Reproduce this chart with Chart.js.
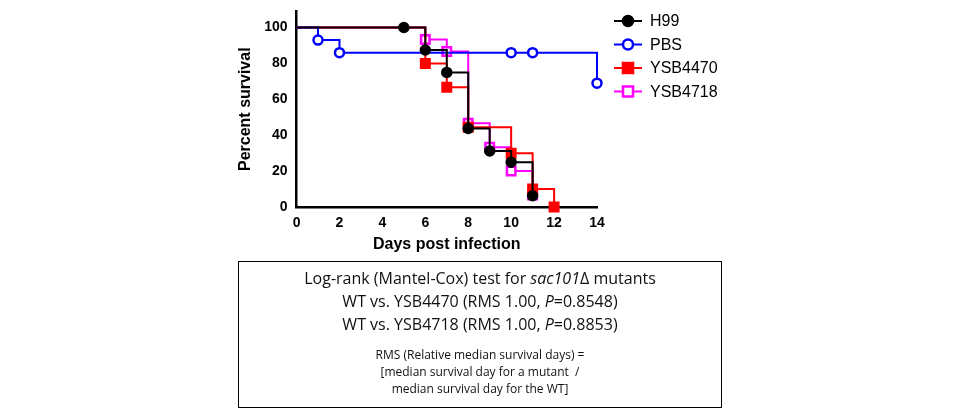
<!DOCTYPE html>
<html><head><meta charset="utf-8">
<script src="https://cdn.jsdelivr.net/npm/chart.js@4/dist/chart.umd.min.js"></script>
<style>
body{margin:0;background:#fff;width:960px;height:415px;position:relative;font-family:"Liberation Sans",Arial,sans-serif}
#wrap{position:absolute;left:0;top:0;width:960px;height:262px}
#box{position:absolute;left:238px;top:261px;width:482px;height:145px;border:1px solid #000;text-align:center;color:#111;font-family:"Open Sans","Liberation Sans",sans-serif}
#box .big{font-size:16px;line-height:23px}
#box .small{font-size:12px;line-height:17px}
</style></head><body>
<div id="wrap"><canvas id="myChart"></canvas></div>
<div id="box">
<div class="big" style="margin-top:5px">Log-rank (Mantel-Cox) test for <i>sac101</i>Δ mutants</div>
<div class="big">WT vs. YSB4470 (RMS 1.00, <i>P</i>=0.8548)</div>
<div class="big">WT vs. YSB4718 (RMS 1.00, <i>P</i>=0.8853)</div>
<div class="small" style="margin-top:10px">RMS (Relative median survival days) =</div>
<div class="small">[median survival day for a mutant &nbsp;/</div>
<div class="small">median survival day for the WT]</div>
</div>
<script>
const seriesNames = ["H99", "PBS", "YSB4470", "YSB4718"];
const h99Days = [0, 5, 6, 7, 8, 9, 10, 11];
const h99Surv = [100, 100, 87.5, 75, 43.75, 31.25, 25, 6.25];
const pbsDays = [0, 1, 2, 10, 11, 14];
const pbsSurv = [100, 93, 86, 86, 86, 69];
const ysb4470Days = [0, 6, 7, 8, 10, 11, 12];
const ysb4470Surv = [100, 80, 66.7, 44.4, 30, 10, 0];
const ysb4718Days = [0, 6, 7, 8, 9, 10, 11];
const ysb4718Surv = [100, 93.3, 86.7, 46.7, 33.3, 20, 6.7];
const xTicks = [0, 2, 4, 6, 8, 10, 12, 14];
const yTicks = [0, 20, 40, 60, 80, 100];

function pts(d, s){ return d.map((x, i) => ({x: x, y: s[i]})); }

const styles = [
    {color: '#000000', point: 'circle', fill: '#000000', r: 4.5},
    {color: '#0000ff', point: 'circle', fill: '#ffffff', r: 4.5},
    {color: '#ff0000', point: 'rect', fill: '#ff0000', r: 6},
    {color: '#ff00ff', point: 'rect', fill: '#ffffff', r: 6}
];
const allData = [pts(h99Days, h99Surv), pts(pbsDays, pbsSurv), pts(ysb4470Days, ysb4470Surv), pts(ysb4718Days, ysb4718Surv)];

const legendPlugin = {
    id: 'sideLegend',
    afterDraw(chart) {
        const c = chart.ctx;
        chart.data.datasets.forEach((ds, i) => {
            const y = 21 + i * 23.5;
            c.save();
            c.strokeStyle = ds.borderColor; c.lineWidth = 2;
            c.beginPath(); c.moveTo(614, y); c.lineTo(642, y); c.stroke();
            c.fillStyle = ds.pointBackgroundColor; c.lineWidth = 2.5;
            c.beginPath();
            if (ds.pointStyle === 'circle') c.arc(628, y, 5, 0, Math.PI * 2);
            else c.rect(623, y - 5, 10, 10);
            c.fill(); c.stroke();
            c.fillStyle = '#000'; c.font = '16px "Liberation Sans", Arial';
            c.textBaseline = 'middle';
            c.fillText(ds.label, 650, y + 1);
            c.restore();
        });
    }
};

const ctx = document.getElementById('myChart').getContext('2d');
const myChart = new Chart(ctx, {
    type: 'line',
    data: {
        datasets: seriesNames.map((n, i) => ({
            label: n,
            data: allData[i],
            stepped: 'before',
            borderColor: styles[i].color,
            borderWidth: 2,
            pointStyle: styles[i].point,
            pointRadius: allData[i].map((p, j) => j === 0 ? 0 : styles[i].r),
            pointBorderWidth: 2.5,
            pointBackgroundColor: styles[i].fill,
            pointBorderColor: styles[i].color,
            clip: false
        }))
    },
    options: {
        responsive: true,
        maintainAspectRatio: false,
        animation: false,
        layout: {padding: {left: 232, right: 363, top: 10, bottom: 4}},
        plugins: {legend: {display: false}, tooltip: {enabled: false}},
        scales: {
            x: {
                type: 'linear', min: 0, max: 14,
                afterBuildTicks: a => { a.ticks = xTicks.map(v => ({value: v})); },
                grid: {display: false, drawTicks: true, tickLength: 6, tickColor: '#000', tickWidth: 2},
                border: {color: '#000', width: 2.5},
                ticks: {color: '#000', font: {size: 14, weight: 'bold', family: '"Liberation Sans", Arial'}, padding: 2, maxRotation: 0},
                title: {display: true, text: 'Days post infection', color: '#000', font: {size: 16, weight: 'bold', family: '"Liberation Sans", Arial'}, padding: {top: 1}}
            },
            y: {
                min: 0, max: 109,
                afterBuildTicks: a => { a.ticks = yTicks.map(v => ({value: v})); },
                grid: {display: false, drawTicks: true, tickLength: 6, tickColor: '#000', tickWidth: 2},
                border: {color: '#000', width: 2.5},
                ticks: {color: '#000', font: {size: 14, weight: 'bold', family: '"Liberation Sans", Arial'}, padding: 3},
                title: {display: true, text: 'Percent survival', color: '#000', font: {size: 16, weight: 'bold', family: '"Liberation Sans", Arial'}, padding: {bottom: 6}}
            }
        }
    },
    plugins: [legendPlugin]
});
</script>
</body></html>
